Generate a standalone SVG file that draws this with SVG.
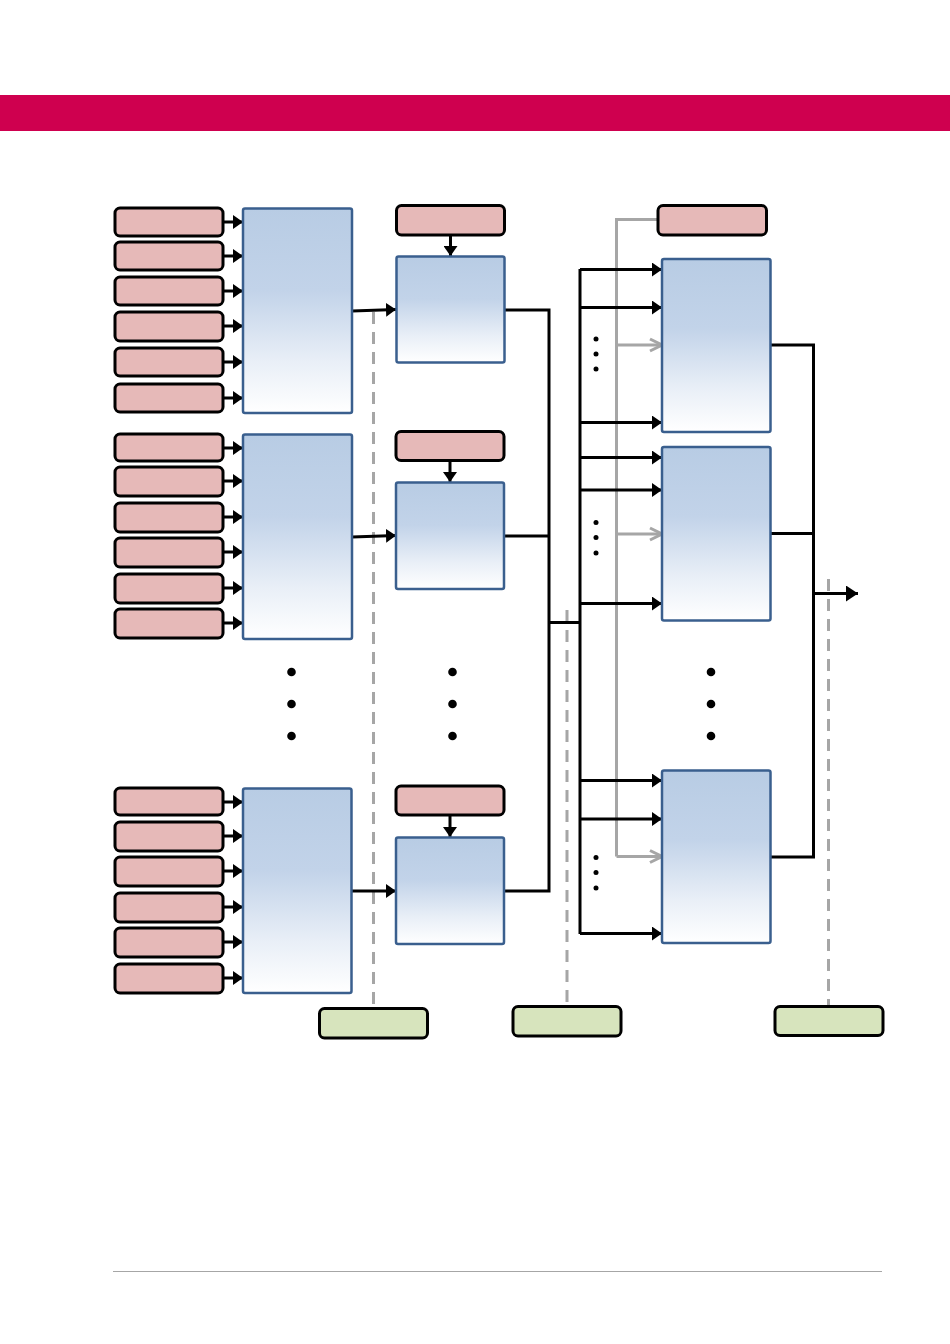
<svg xmlns="http://www.w3.org/2000/svg" width="950" height="1344" viewBox="0 0 950 1344">
<style>
.in{fill:#E6B9B8;stroke:#000;stroke-width:3}
.out{fill:#D7E4BD;stroke:#000;stroke-width:3}
.blk{fill:url(#bg);stroke:#3A5F8E;stroke-width:2.5}
.ln{fill:none;stroke:#000;stroke-width:3}
.ar{fill:none;stroke:#000;stroke-width:3;marker-end:url(#ah)}
.gl{fill:none;stroke:#A6A6A6;stroke-width:3}
.ga{fill:none;stroke:#A6A6A6;stroke-width:3;marker-end:url(#gh)}
.ds{fill:none;stroke:#A6A6A6;stroke-width:3;stroke-dasharray:12 8}
.dot{fill:#000}
</style>
<defs>
<linearGradient id="bg" x1="0" y1="0" x2="0" y2="1">
<stop offset="0" stop-color="#B8CCE4"/>
<stop offset="0.4" stop-color="#C2D3E9"/>
<stop offset="0.75" stop-color="#E9EFF7"/>
<stop offset="1" stop-color="#FFFFFF"/>
</linearGradient>
<marker id="ah" markerUnits="userSpaceOnUse" markerWidth="10" markerHeight="14" refX="10" refY="7" orient="auto">
<path d="M0,0 L10,7 L0,14 z" fill="#000"/>
</marker>
<marker id="ah2" markerUnits="userSpaceOnUse" markerWidth="12" markerHeight="16" refX="12" refY="8" orient="auto">
<path d="M0,0 L12,8 L0,16 z" fill="#000"/>
</marker>
<marker id="gh" markerUnits="userSpaceOnUse" markerWidth="16" markerHeight="16" refX="14" refY="8" orient="auto">
<path d="M2,2 L14,8 L2,14" fill="none" stroke="#A6A6A6" stroke-width="3"/>
</marker>
</defs>
<rect x="0" y="0" width="950" height="1344" fill="#fff"/>
<rect id="header" x="0" y="95" width="950" height="36" fill="#CF004F"/>
<line id="footer" x1="113" y1="1271.5" x2="882" y2="1271.5" stroke="#A6A6A6" stroke-width="1.2"/>

<g id="connectors">
<path class="ds" d="M373.5,312 V1008"/>
<path class="ds" d="M567,610 V1006"/>
<path class="ds" d="M828.5,579 V1006"/>
<path class="gl" d="M657,219.5 H616.5 V856.5"/>
<path class="ga" d="M616.5,345 H662"/>
<path class="ga" d="M616.5,534 H662"/>
<path class="ga" d="M616.5,856.5 H662"/>
<path class="ar" d="M224,222 H243"/>
<path class="ar" d="M224,256 H243"/>
<path class="ar" d="M224,291 H243"/>
<path class="ar" d="M224,326 H243"/>
<path class="ar" d="M224,362 H243"/>
<path class="ar" d="M224,398 H243"/>
<path class="ar" d="M224,448 H243"/>
<path class="ar" d="M224,481 H243"/>
<path class="ar" d="M224,517 H243"/>
<path class="ar" d="M224,552 H243"/>
<path class="ar" d="M224,588 H243"/>
<path class="ar" d="M224,623 H243"/>
<path class="ar" d="M224,802 H243"/>
<path class="ar" d="M224,836 H243"/>
<path class="ar" d="M224,871 H243"/>
<path class="ar" d="M224,907 H243"/>
<path class="ar" d="M224,942 H243"/>
<path class="ar" d="M224,978 H243"/>
<path class="ar" d="M352,311 L396,309.5"/>
<path class="ar" d="M352,537 L396,535.5"/>
<path class="ar" d="M352,891 L396,891"/>
<path class="ar" d="M450.5,235 V256"/>
<path class="ar" d="M450,461 V482"/>
<path class="ar" d="M450,815 V837"/>
<path class="ln" d="M505,310 H549 V891 H504"/>
<path class="ln" d="M504,536 H549"/>
<path class="ln" d="M549,622.5 H580"/>
<path class="ln" d="M580,269 V934"/>
<path class="ar" d="M580,269.5 H662"/>
<path class="ar" d="M580,307.5 H662"/>
<path class="ar" d="M580,422.5 H662"/>
<path class="ar" d="M580,457.5 H662"/>
<path class="ar" d="M580,490 H662"/>
<path class="ar" d="M580,603.5 H662"/>
<path class="ar" d="M580,780.5 H662"/>
<path class="ar" d="M580,819 H662"/>
<path class="ar" d="M580,933.5 H662"/>
<path class="ln" d="M771,345 H813.5 V857 H771"/>
<path class="ln" d="M771,533.5 H813.5"/>
<path d="M813.5,593.5 H858" fill="none" stroke="#000" stroke-width="3" marker-end="url(#ah2)"/>
</g>

<g id="inputs-a">
<rect class="in" x="115" y="208" width="108" height="28" rx="5"/>
<rect class="in" x="115" y="242" width="108" height="28" rx="5"/>
<rect class="in" x="115" y="277" width="108" height="28" rx="5"/>
<rect class="in" x="115" y="312" width="108" height="29" rx="5"/>
<rect class="in" x="115" y="348" width="108" height="28" rx="5"/>
<rect class="in" x="115" y="384" width="108" height="28" rx="5"/>
</g>
<g id="inputs-b">
<rect class="in" x="115" y="434" width="108" height="27" rx="5"/>
<rect class="in" x="115" y="467" width="108" height="29" rx="5"/>
<rect class="in" x="115" y="503" width="108" height="29" rx="5"/>
<rect class="in" x="115" y="538" width="108" height="29" rx="5"/>
<rect class="in" x="115" y="574" width="108" height="29" rx="5"/>
<rect class="in" x="115" y="609" width="108" height="29" rx="5"/>
</g>
<g id="inputs-c">
<rect class="in" x="115" y="788" width="108" height="27" rx="5"/>
<rect class="in" x="115" y="822" width="108" height="29" rx="5"/>
<rect class="in" x="115" y="857" width="108" height="29" rx="5"/>
<rect class="in" x="115" y="893" width="108" height="29" rx="5"/>
<rect class="in" x="115" y="928" width="108" height="29" rx="5"/>
<rect class="in" x="115" y="964" width="108" height="29" rx="5"/>
</g>
<g id="block-a"><rect class="blk" x="243" y="208.5" width="109" height="204.5" rx="2"/></g>
<g id="block-b"><rect class="blk" x="243" y="434.5" width="109" height="204.5" rx="2"/></g>
<g id="block-c"><rect class="blk" x="243" y="788.5" width="108.5" height="204.5" rx="2"/></g>

<g id="ctrl-a"><rect class="in" x="396.5" y="205.5" width="108" height="29.5" rx="5"/></g>
<g id="ctrl-b"><rect class="in" x="396" y="431.5" width="108" height="29" rx="5"/></g>
<g id="ctrl-c"><rect class="in" x="396" y="786" width="108" height="29" rx="5"/></g>
<g id="mid-a"><rect class="blk" x="396.5" y="256.5" width="108" height="106" rx="2"/></g>
<g id="mid-b"><rect class="blk" x="396" y="482.5" width="108" height="106.5" rx="2"/></g>
<g id="mid-c"><rect class="blk" x="396" y="837.5" width="108" height="106.5" rx="2"/></g>

<g id="ctrl-r"><rect class="in" x="658" y="205.5" width="108.5" height="29.5" rx="5"/></g>
<g id="right-a"><rect class="blk" x="662" y="259" width="108.5" height="173" rx="2"/></g>
<g id="right-b"><rect class="blk" x="662" y="447" width="108.5" height="173.5" rx="2"/></g>
<g id="right-c"><rect class="blk" x="662" y="770.5" width="108.5" height="172.5" rx="2"/></g>

<g id="out-1"><rect class="out" x="319.5" y="1008.5" width="108" height="29.5" rx="5"/></g>
<g id="out-2"><rect class="out" x="513" y="1006.5" width="108" height="29.5" rx="5"/></g>
<g id="out-3"><rect class="out" x="775" y="1006.5" width="108" height="29" rx="5"/></g>

<g id="ellipsis">
<circle class="dot" cx="291.5" cy="672" r="4.3"/>
<circle class="dot" cx="291.5" cy="704" r="4.3"/>
<circle class="dot" cx="291.5" cy="736" r="4.3"/>
<circle class="dot" cx="452.5" cy="672" r="4.3"/>
<circle class="dot" cx="452.5" cy="704" r="4.3"/>
<circle class="dot" cx="452.5" cy="736" r="4.3"/>
<circle class="dot" cx="711" cy="672" r="4.3"/>
<circle class="dot" cx="711" cy="704" r="4.3"/>
<circle class="dot" cx="711" cy="736" r="4.3"/>
<circle class="dot" cx="596" cy="339" r="2.5"/>
<circle class="dot" cx="596" cy="354" r="2.5"/>
<circle class="dot" cx="596" cy="369" r="2.5"/>
<circle class="dot" cx="596" cy="522.5" r="2.5"/>
<circle class="dot" cx="596" cy="537.5" r="2.5"/>
<circle class="dot" cx="596" cy="553" r="2.5"/>
<circle class="dot" cx="596" cy="857.5" r="2.5"/>
<circle class="dot" cx="596" cy="872.5" r="2.5"/>
<circle class="dot" cx="596" cy="888" r="2.5"/>
</g>
</svg>
